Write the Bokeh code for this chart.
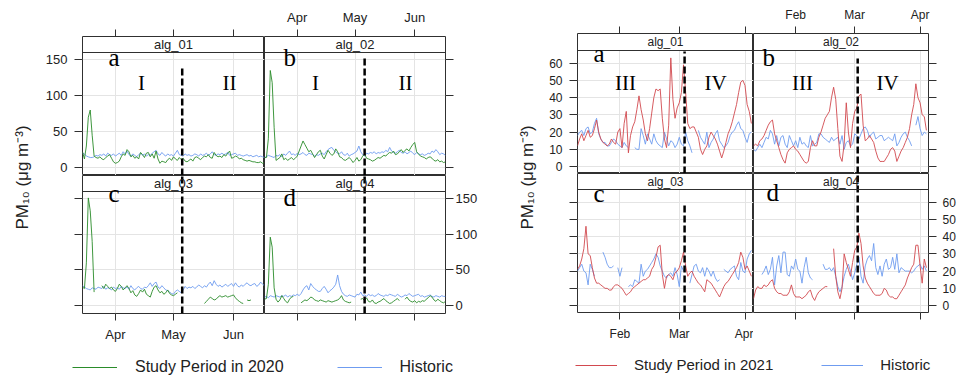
import math
import pandas as pd
from bokeh.plotting import figure
from bokeh.layouts import row, column
from bokeh.models import (Range1d, FixedTicker, DatetimeTickFormatter, CustomJSTickFormatter,
                          Span, Label, Legend, LegendItem)
from bokeh.embed import file_html
from bokeh.resources import INLINE

nan = float("nan")

# ------------------------------------------------------------------ data
stations = ["alg_01", "alg_02", "alg_03", "alg_04"]
panel_letters = ["a", "b", "c", "d"]
phases_2020 = ["I", "II"]
phases_2021 = ["III", "IV"]
start_2020, end_2020 = "2020-03-15", "2020-06-17"
start_2021, end_2021 = "2021-01-12", "2021-04-05"
month_ticks_2020 = ["2020-04-01", "2020-05-01", "2020-06-01"]
month_ticks_2021 = ["2021-02-01", "2021-03-01", "2021-04-01"]
phase_change_2020 = ["2020-05-05 12:00", "2020-05-06", "2020-05-05 12:00", "2020-05-06"]
phase_change_2021 = ["2021-03-03 12:00", "2021-03-02 10:00", "2021-03-03 12:00", "2021-03-02 10:00"]
y_ticks_2020 = [0, 50, 100, 150]
y_ticks_2021 = [0, 10, 20, 30, 40, 50, 60]
y_lim_2020 = (-11, 160)
y_lim_2021 = (-4, 67.3)
legend_2020 = ["Study Period in 2020", "Historic"]
legend_2021 = ["Study Period in 2021", "Historic"]

study_2020_alg01 = [22, 12, 30, 70, 80, 45, 16, 14, 13, 15,
                    12, 11, 14, 16, 18, 13, 8, 6, 7, 9,
                    15, 19, 17, 25, 22, 15, 17, 13, 15, 12,
                    21, 18, 14, 20, 21, 15, 19, 13, 23, 12,
                    6, 9, 8, 7, 11, 13, 10, 15, 12, 10,
                    14, 11, 13, 9, 8, 10, 12, 9, 14, 15,
                    13, 11, 14, 16, 15, 18, 14, 13, 21, 17,
                    15, 16, 14, 18, 16, 20, 23, 13, 14, 16,
                    15, 12, 13, 11, 10, 9, 10, 9, 8, 8,
                    7, 7, 8, 6, 7]
hist_2020_alg01 = [20, 19, 16, 15, 14, 14, 15, 17, 16, 18,
                   17, 19, 16, 20, 18, 17, 19, 16, 18, 20,
                   17, 22, 19, 23, 18, 16, 19, 17, 15, 18,
                   20, 17, 19, 16, 18, 17, 20, 22, 24, 19,
                   17, 21, 18, 16, 19, 17, 18, 16, 20, 24,
                   18, 17, 16, 19, 17, 18, 16, 17, 19, 18,
                   16, 19, 17, 18, 20, 17, 19, 22, 18, 17,
                   19, 18, 20, 18, 19, 21, 17, 18, 19, 20,
                   17, 18, 17, 16, 17, 18, 16, 17, 15, 16,
                   17, 15, 16, 15, 14]
study_2020_alg02 = [14, 14, 40, 135, 118, 56, 10, 12, 14, 19,
                    11, 13, 10, 12, 14, 11, 13, 16, 23, 30,
                    37, 32, 27, 22, 24, 19, 14, 18, 22, 24,
                    16, 12, 18, 24, 20, 17, 19, 26, 22, 15,
                    14, 11, 10, 12, 14, 11, 7, 10, 14, 9,
                    11, 16, 19, 13, 12, 11, 9, 10, 12, 14,
                    13, 15, 17, 16, 19, 21, 20, 23, 18, 19,
                    22, 25, 21, 24, 26, 23, 28, 32, 35, 22,
                    19, 16, 15, 14, 12, 14, 15, 13, 10, 9,
                    11, 8, 9, 7, 8]
hist_2020_alg02 = [14, 15, 17, 16, 15, 14, 17, 16, 18, 15,
                   19, 17, 20, 23, 18, 19, 17, 20, 18, 19,
                   21, 18, 17, 20, 19, 18, 16, 18, 17, 19,
                   20, 18, 22, 25, 27, 28, 24, 22, 20, 19,
                   22, 18, 17, 20, 16, 18, 19, 21, 23, 30,
                   22, 18, 16, 20, 19, 21, 20, 22, 19, 21,
                   20, 22, 21, 24, 22, 28, 23, 21, 20, 22,
                   24, 21, 20, 22, 19, 21, 23, 20, 18, 21,
                   19, 18, 19, 17, 18, 20, 19, 23, 21, 25,
                   22, 18, 20, 19, 17]
study_2020_alg03 = [26, 24, 60, 151, 133, 90, 19, nan, nan, nan,
                    28, 24, 30, 27, 24, 26, 22, 20, 24, 30,
                    27, 22, 25, 28, 24, 18, 21, 15, 13, 17,
                    22, 19, 23, 16, 14, 12, 20, 26, 28, 22,
                    18, 20, 16, 18, 22, 17, 15, 14, 16, 18,
                    nan, nan, nan, nan, nan, nan, nan, nan, nan, nan,
                    nan, nan, nan, 3, 6, 9, 12, 10, 8, 9,
                    12, 14, 12, 13, 14, 12, 13, 14, 15, 11,
                    8, 6, 4, 3, nan, 8, 7, 8, nan, nan,
                    nan, nan, nan, nan, nan]
hist_2020_alg03 = [28, 26, 24, 23, 22, 25, 24, 23, 26, 25,
                   24, 27, 23, 25, 24, 22, 26, 24, 25, 23,
                   27, 25, 24, 26, 23, 28, 24, 22, 25, 27,
                   24, 23, 26, 25, 28, 32, 27, 31, 33, 26,
                   24, 28, 25, 22, 21, 19, 17, 16, 20, 22,
                   20, 18, 22, 27, 24, 26, 25, 27, 24, 26,
                   29, 27, 25, 28, 26, 30, 33, 28, 35, 30,
                   27, 29, 26, 28, 30, 27, 29, 31, 27, 32,
                   28, 26, 29, 27, 30, 32, 29, 28, 30, 31,
                   27, 29, 33, 30, 28]
study_2020_alg04 = [9, 10, 30, 96, 82, 25, 9, 5, 8, 14,
                    10, 6, 4, 9, 12, 13, nan, nan, nan, 4,
                    6, 8, 7, 9, 12, 11, 8, 7, 6, 8,
                    7, 6, 5, 7, 6, 5, 6, 7, 8, 10,
                    14, 8, 6, 5, 4, 5, nan, nan, nan, nan,
                    9, 10, 7, 11, 6, 5, 8, 4, 3, 5,
                    6, 8, 10, 7, 5, 3, 4, 6, 8, 10,
                    7, nan, nan, 9, 12, 8, 6, 5, 7, 4,
                    6, 5, 7, 6, 9, 11, 14, 12, 8, 6,
                    9, 7, 5, 4, 6]
hist_2020_alg04 = [12, 13, 11, 14, 13, 12, 14, 13, 12, 14,
                   13, 15, 12, 14, 13, 15, 14, 16, 14, 17,
                   22, 26, 28, 22, 31, 27, 24, 22, 20, 20,
                   24, 27, 23, 18, 21, 23, 26, 30, 43, 28,
                   20, 16, 14, 13, 15, 14, 13, 12, 16, 15,
                   19, 14, 15, 13, 16, 14, 15, 13, 14, 17,
                   15, 14, 13, 15, 14, 16, 15, 14, 13, 16,
                   14, 12, 13, 15, 14, 17, 15, 13, 14, 15,
                   16, 13, 14, 12, 13, 14, 15, 13, 12, 14,
                   13, 12, 14, 13, 13]

study_2021_alg01 = [12, 16, 19, 15, 18, 21, 17, 18, 22, 27,
                    20, 16, 14, 13, 12, 13, 16, 14, 13, 20,
                    22, 11, 25, 32, 8, 18, 23, 26, 33, 41,
                    33, 27, 19, 15, 22, 31, 40, 45, 44, 45,
                    28, 16, 11, 24, 63, 39, 28, 34, 37, 43,
                    59, 43, 25, 22, 23, 23, 20, 17, 10, 7,
                    10, 12, 17, 20, 18, 16, 13, 9, 5, 9,
                    14, 19, 22, 26, 31, 36, 43, 49, 50, 47,
                    36, 32, 25]
hist_2021_alg01 = [18, 20, 21, 18, 22, 23, 19, 20, 25, 28,
                   19, 16, 14, 14, 12, 12, 14, 16, 15, 13,
                   12, 11, 14, 12, 11, nan, nan, 11, 10, 10,
                   22, 18, 13, 19, 16, 13, 19, 15, 13, 12,
                   11, 20, 16, 12, 15, 14, 11, 13, 17, 13,
                   12, 20, 15, 12, 8, nan, nan, 21, 17, 15,
                   13, 20, 11, 14, 16, 19, 21, 15, 13, 11,
                   12, 14, 18, 20, 21, 24, 26, 22, 21, 17,
                   14, 19, 20]
study_2021_alg02 = [12, 13, 12, 15, 16, 18, 21, 24, 26, 27,
                    19, 15, 11, 7, 4, 2, 8, 10, 11, 12,
                    10, 9, 7, 5, 3, 2, 3, 11, 15, 12,
                    12, 17, 20, 24, 28, 30, 32, 40, 46, 39,
                    22, 6, 3, 13, 37, 20, 11, 25, 32, 34,
                    41, 42, 24, 15, 16, 18, 16, 14, 9, 5,
                    3, 3, 3, 5, 7, 10, 11, 9, 3, 6,
                    9, 11, 14, 17, 22, 30, 36, 48, 40, 37,
                    30, 29, 21]
hist_2021_alg02 = [10, 9, 11, 13, 11, 14, 17, 16, 21, 19,
                   13, 18, 12, 17, 18, 13, 11, 18, 15, 12,
                   15, 11, 17, 13, 14, 12, 11, 18, 12, 13,
                   14, 19, 19, 17, 16, 15, 14, 17, 15, 16,
                   17, 13, 18, 10, 14, 15, 12, 13, 19, 18,
                   16, 19, 22, 23, 21, 17, 19, 20, 16, 17,
                   18, 18, 15, 16, 17, 16, 15, 19, 12, 14,
                   17, 19, 20, 17, 15, 12, nan, 24, 29, 22,
                   18, 20, 19]
study_2021_alg03 = [21, 23, 27, 33, 46, 30, 29, 22, 16, 13,
                    13, 12, 11, 10, 10, 9, 9, 11, 12, 12,
                    11, 10, 8, 6, 7, 8, 10, 11, 12, 13,
                    14, 15, 15, 16, 17, 21, 23, 28, 34, 35,
                    18, 10, 17, 18, 17, 15, 19, 20, 22, 26,
                    31, 23, 17, 19, 20, 17, 15, 13, 12, 10,
                    8, 15, 14, 13, 11, 9, 7, 5, 8, 11,
                    13, 14, 16, 18, 20, 22, 25, 31, 28, 21,
                    23, 20, 17]
hist_2021_alg03 = [20, 22, 24, 20, 19, 12, 24, 21, 17, nan,
                   nan, nan, 31, 28, 24, 22, 22, 23, nan, 22,
                   17, 22, nan, nan, 11, 12, 11, 15, 14, 13,
                   24, 17, 20, 21, 23, 25, 27, 30, 28, 23,
                   20, 17, 16, 18, 19, 17, 22, 18, 11, 23,
                   20, 24, nan, 13, 18, 23, 24, 20, 19, 22,
                   17, 22, 20, 17, 20, 16, 14, 15, nan, 21,
                   20, 19, 21, 22, 23, 17, 15, 25, 20, 19,
                   27, 30, 32]
study_2021_alg04 = [4, 9, 11, 10, 10, 12, 11, 12, 14, 15,
                    10, 8, 7, 7, 6, 6, 6, 8, 12, 7,
                    5, 5, 5, 4, 5, 6, 8, 9, 5, 3,
                    6, 8, 9, 10, 11, 11, nan, nan, 33, 17,
                    8, 4, 10, 30, 25, 21, 17, 25, 32, 34,
                    42, 36, 23, 16, 13, 11, 9, 7, 6, 6,
                    6, 7, 10, 9, 6, 5, 5, 4, 4, 6,
                    8, 10, 12, 16, 19, 22, 24, 35, 35, 23,
                    13, 27, 22]
hist_2021_alg04 = [nan, nan, nan, nan, 18, 20, 23, 18, 21, 28,
                   12, 23, 29, 19, 31, 31, 18, 17, 23, 21,
                   27, 21, 20, 13, 22, 28, 19, 16, 15, nan,
                   nan, nan, nan, 24, 21, 21, 22, 20, 22, 17,
                   11, 8, 11, 17, 21, 24, 20, 15, 19, 24,
                   28, 17, 13, 23, 27, 29, 26, 36, 22, 18,
                   23, 17, 24, 27, 21, 22, 28, 21, 30, 19,
                   22, 21, 20, 20, 20, 19, 20, 22, 23, 24,
                   21, 23, 20]

# ------------------------------------------------------------------ style
GREEN = "#2a8c2a"
BLUE = "#6f9cf0"
RED = "#d2494f"
FRAME = "#303030"
GRID = "#e4e4e4"
TXT = "#222222"
SANS = "Liberation Sans"
SERIF = "Liberation Serif"


def ms(t):
    return pd.Timestamp(t).value / 1e6


def x_at(xr, fw, px):
    return xr[0] + (xr[1] - xr[0]) * px / fw


def y_at(yr, fh, py):
    return yr[1] - (yr[1] - yr[0]) * py / fh


def style_axis(ax, show, fs, tick_out, standoff):
    ax.axis_line_color = None
    ax.major_tick_line_color = FRAME
    ax.major_tick_in = 0
    ax.major_tick_out = tick_out
    ax.minor_tick_line_color = None
    ax.major_label_text_font = SANS
    ax.major_label_text_font_size = fs
    ax.major_label_text_color = TXT
    ax.major_label_standoff = standoff
    if not show:
        ax.formatter = CustomJSTickFormatter(code="return ''")


def build_half(cfg):
    dates = pd.date_range(cfg["start"], periods=len(cfg["studies"][0]), freq="D")
    xr = (ms(cfg["start"]), ms(cfg["end"]))
    xt = [ms(t) for t in cfg["month_ticks"]]
    ylo, yhi = cfg["ylim"]
    figs = []
    for i in range(4):
        r, c = divmod(i, 2)
        fw = cfg["col_w"][c]
        fh = cfg["row_h"][r]
        sh = cfg["strip_h"][r]
        units_per_px = (yhi - ylo) / (fh - sh)
        yr = (ylo, yhi + sh * units_per_px)
        p = figure(frame_width=fw, frame_height=fh, x_axis_type="datetime",
                   x_axis_location="above" if r == 0 else "below",
                   y_axis_location="left" if c == 0 else "right",
                   x_range=Range1d(*xr), y_range=Range1d(*yr),
                   toolbar_location=None, output_backend="svg", title=None,
                   min_border_left=cfg["b_left"] if c == 0 else 0,
                   min_border_right=cfg["b_right"] if c == 1 else 0,
                   min_border_top=cfg["b_top"] if r == 0 else 0,
                   min_border_bottom=cfg["b_bottom"] if r == 1 else 0,
                   background_fill_color="white", border_fill_color="white",
                   outline_line_color=FRAME, outline_line_width=1)
        # axes (lattice alternation)
        show_x = (r == 0 and c == 1) or (r == 1 and c == 0)
        show_y = (r == 0 and c == 0) or (r == 1 and c == 1)
        xax = p.xaxis[0]
        xax.ticker = FixedTicker(ticks=xt)
        fmt = "%b"
        xax.formatter = DatetimeTickFormatter(days=fmt, months=fmt, years=fmt, hours=fmt,
                                              hourmin=fmt, minutes=fmt, minsec=fmt,
                                              seconds=fmt, milliseconds=fmt, microseconds=fmt)
        style_axis(xax, show_x, cfg["tick_fs"], cfg["xtick_out"],
                   cfg["x_standoff_top"] if r == 0 else cfg["x_standoff_bottom"])
        yax = p.yaxis[0]
        yax.ticker = FixedTicker(ticks=cfg["yticks"])
        style_axis(yax, show_y, cfg["tick_fs"], cfg["ytick_out"],
                   cfg["y_standoff_left"] if c == 0 else cfg["y_standoff_right"])
        # grid
        ystrip = yhi
        p.xgrid.ticker = FixedTicker(ticks=xt)
        p.ygrid.ticker = FixedTicker(ticks=cfg["yticks"])
        p.grid.grid_line_color = GRID
        p.grid.grid_line_width = 1
        try:
            p.xgrid.cross_bounds = (yr[0], ystrip)
        except Exception:
            p.xgrid.visible = False
            for t in xt:
                p.segment(x0=[t], y0=[yr[0]], x1=[t], y1=[ystrip], line_color=GRID,
                          line_width=1, level="underlay")
        # strip
        p.add_layout(Span(location=ystrip, dimension="width", line_color=FRAME, line_width=1))
        p.add_layout(Label(x=x_at(xr, fw, fw / 2), y=y_at(yr, fh, sh / 2), text=stations[i],
                           text_align="center", text_baseline="middle",
                           text_font=SANS, text_font_size=cfg["strip_fs"], text_color=TXT))
        # series
        p.line(dates, cfg["hists"][i], line_color=BLUE, line_width=1, line_alpha=0.9)
        p.line(dates, cfg["studies"][i], line_color=cfg["color"], line_width=1, line_alpha=0.9)
        # phase boundary
        tphase = ms(cfg["phase_dates"][i])
        p.segment(x0=[tphase], y0=[yr[0]], x1=[tphase],
                  y1=[y_at(yr, fh, cfg["dash_top"][i])],
                  line_color="black", line_width=2.5, line_dash="7 3")
        # panel letter
        lx, ly = cfg["letter_pos"][i]
        p.add_layout(Label(x=x_at(xr, fw, lx), y=y_at(yr, fh, ly), text=panel_letters[i],
                           text_align="left", text_baseline="alphabetic",
                           text_font=SERIF, text_font_size="25px", text_color="black"))
        # phase numerals (top row only)
        if r == 0:
            for k, lab in enumerate(cfg["phases"]):
                px = cfg["phase_x"][c][k]
                p.add_layout(Label(x=x_at(xr, fw, px), y=y_at(yr, fh, cfg["phase_base"]),
                                   text=lab, text_align="center", text_baseline="alphabetic",
                                   text_font=SERIF, text_font_size="21px", text_color="black"))
        figs.append(p)

    grid_h = cfg["b_top"] + cfg["row_h"][0] + cfg["row_h"][1] + cfg["b_bottom"]
    ylab = figure(frame_width=cfg["ylab_w"], frame_height=grid_h, x_axis_location=None,
                  y_axis_location=None, x_range=Range1d(0, cfg["ylab_w"]),
                  y_range=Range1d(0, grid_h), toolbar_location=None, output_backend="svg",
                  title=None, min_border_left=0, min_border_right=0,
                  min_border_top=0, min_border_bottom=0, outline_line_color=None)
    ylab.grid.visible = False
    ylab.add_layout(Label(x=cfg["ylab_x"], y=grid_h - cfg["ylab_y"], text="PM₁₀ (μg m⁻³)",
                          angle=math.pi / 2, text_align="center", text_baseline="middle",
                          text_font=SANS, text_font_size=cfg["ylab_fs"], text_color=TXT))

    total_w = cfg["ylab_w"] + sum(cfg["col_w"]) + cfg["b_left"] + cfg["b_right"]
    leg = figure(frame_width=total_w, frame_height=cfg["leg_h"], x_axis_location=None,
                 y_axis_location=None, x_range=Range1d(0, total_w), y_range=Range1d(0, cfg["leg_h"]),
                 toolbar_location=None, output_backend="svg", title=None,
                 min_border_left=0, min_border_right=0, min_border_top=0, min_border_bottom=0,
                 outline_line_color=None)
    leg.grid.visible = False
    r1 = leg.line(x=[nan], y=[nan], line_color=cfg["color"], line_width=1, line_alpha=1.0)
    r2 = leg.line(x=[nan], y=[nan], line_color=BLUE, line_width=1, line_alpha=1.0)
    legend = Legend(items=[LegendItem(label=cfg["legend"][0], renderers=[r1]),
                           LegendItem(label=cfg["legend"][1], renderers=[r2])],
                    location=(cfg["leg_x"], cfg["leg_y"]), orientation="horizontal",
                    glyph_width=cfg["leg_glyph"], glyph_height=16, label_height=16,
                    label_standoff=cfg["leg_standoff"], spacing=cfg["leg_spacing"],
                    padding=0, margin=0, label_text_font=SANS,
                    label_text_font_size=cfg["leg_fs"], label_text_color=TXT,
                    border_line_alpha=0, background_fill_alpha=0)
    leg.add_layout(legend)

    panels = column(row(figs[0], figs[1]), row(figs[2], figs[3]))
    return column(row(ylab, panels), leg)


cfg2020 = dict(start=start_2020, end=end_2020, month_ticks=month_ticks_2020,
               studies=[study_2020_alg01, study_2020_alg02, study_2020_alg03, study_2020_alg04],
               hists=[hist_2020_alg01, hist_2020_alg02, hist_2020_alg03, hist_2020_alg04],
               color=GREEN, ylim=y_lim_2020, yticks=y_ticks_2020,
               col_w=[182, 181], row_h=[139, 138], strip_h=[16, 16],
               b_left=44, b_right=35, b_top=36, b_bottom=30,
               tick_fs="13px", strip_fs="13px", xtick_out=7, ytick_out=8,
               x_standoff_top=5, x_standoff_bottom=6, y_standoff_left=7, y_standoff_right=2,
               phase_dates=phase_change_2020, dash_top=[29, 22, 0, 0],
               letter_pos=[(26, 21), (19, 21), (26, 18), (19, 22)],
               phases=phases_2020, phase_x=[(59, 147), (51, 141)], phase_base=46,
               ylab_w=38, ylab_x=22, ylab_y=177, ylab_fs="17px",
               leg_h=35, leg_y=3, leg_x=72, leg_glyph=45, leg_standoff=18, leg_spacing=53,
               leg_fs="16px", legend=legend_2020)

cfg2021 = dict(start=start_2021, end=end_2021, month_ticks=month_ticks_2021,
               studies=[study_2021_alg01, study_2021_alg02, study_2021_alg03, study_2021_alg04],
               hists=[hist_2021_alg01, hist_2021_alg02, hist_2021_alg03, hist_2021_alg04],
               color=RED, ylim=y_lim_2021, yticks=y_ticks_2021,
               col_w=[176, 175], row_h=[140, 139], strip_h=[17, 16],
               b_left=35, b_right=30, b_top=33, b_bottom=31,
               tick_fs="12px", strip_fs="12px", xtick_out=7, ytick_out=8,
               x_standoff_top=5, x_standoff_bottom=7, y_standoff_left=7, y_standoff_right=6,
               phase_dates=phase_change_2021, dash_top=[18, 25, 30, 0],
               letter_pos=[(16, 20), (9, 24), (16, 20), (13, 19)],
               phases=phases_2021, phase_x=[(48, 138), (49, 134)], phase_base=49,
               ylab_w=62, ylab_x=47, ylab_y=177, ylab_fs="17px",
               leg_h=35, leg_y=5, leg_x=95, leg_glyph=42, leg_standoff=17, leg_spacing=48,
               leg_fs="15px", legend=legend_2021)

root = row(build_half(cfg2020), build_half(cfg2021))

open("out.html", "w").write(file_html(root, INLINE, title="PM10"))
